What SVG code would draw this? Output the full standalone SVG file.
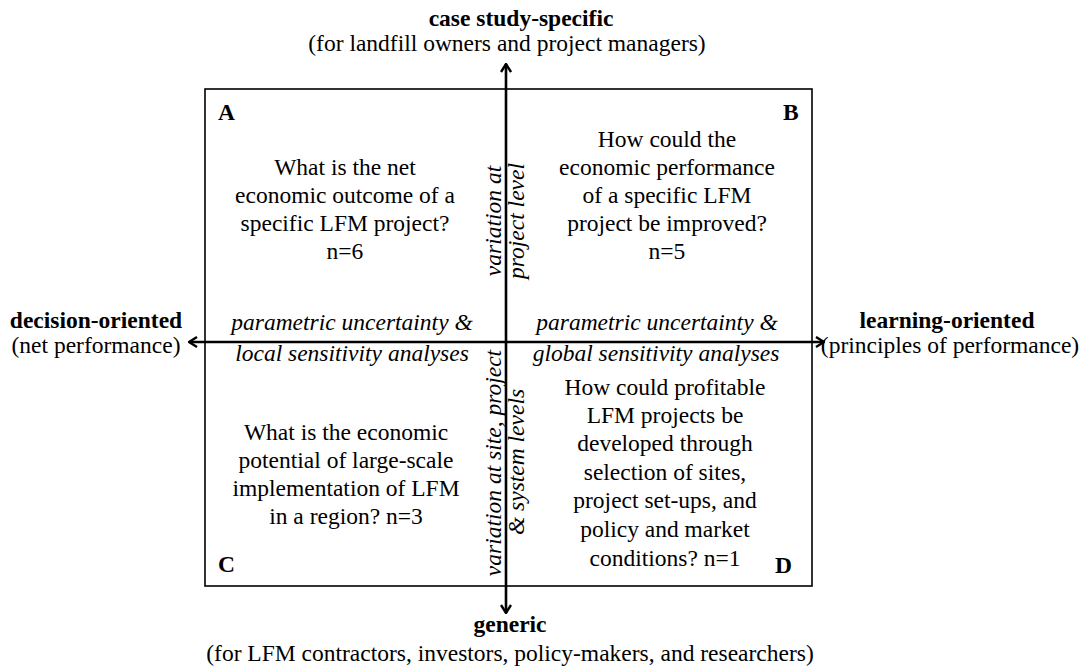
<svg xmlns="http://www.w3.org/2000/svg" width="1080" height="668" viewBox="0 0 1080 668" font-family="Liberation Serif, DejaVu Serif, serif" font-size="23.5">
<style>
.b{font-weight:bold}
.i{font-style:italic}
.m{text-anchor:middle}
.ax{stroke:#000;stroke-width:2.6;fill:none}
</style>
<defs>
<marker id="ah" viewBox="0 0 12 12" refX="11" refY="6" markerWidth="12" markerHeight="12" markerUnits="userSpaceOnUse" orient="auto">
<path d="M3,1 L11,6 L3,11" fill="none" stroke="#000" stroke-width="2.4"/>
</marker>
</defs>
<rect x="0" y="0" width="1080" height="668" fill="#fff"/>
<g id="frame"><rect x="205" y="89" width="607" height="497" fill="none" stroke="#000" stroke-width="1.6"/></g>
<g id="connectors">
<line class="ax" x1="506" y1="342" x2="506" y2="64" marker-end="url(#ah)"/>
<line class="ax" x1="506" y1="342" x2="506" y2="613" marker-end="url(#ah)"/>
<line class="ax" x1="506" y1="342" x2="189" y2="342" marker-end="url(#ah)"/>
<line class="ax" x1="506" y1="342" x2="824" y2="342" marker-end="url(#ah)"/>
</g>
<g id="top"><text class="b m" x="521" y="26">case study-specific</text><text class="m" x="507" y="51">(for landfill owners and project managers)</text></g>
<g id="bottom"><text class="b m" x="510" y="632">generic</text><text class="m" x="510" y="661">(for LFM contractors, investors, policy-makers, and researchers)</text></g>
<g id="left"><text class="b m" x="96" y="328">decision-oriented</text><text class="m" x="96" y="353">(net performance)</text></g>
<g id="right"><text class="b m" x="947" y="328">learning-oriented</text><text class="m" x="950" y="353">(principles of performance)</text></g>
<g id="qA">
<text class="b" x="218" y="120">A</text>
<text class="m" x="345" y="175">What is the net</text>
<text class="m" x="345" y="203">economic outcome of a</text>
<text class="m" x="345" y="231">specific LFM project?</text>
<text class="m" x="345" y="259">n=6</text>
</g>
<g id="qB">
<text class="b" x="783" y="120">B</text>
<text class="m" x="667" y="147">How could the</text>
<text class="m" x="667" y="175">economic performance</text>
<text class="m" x="667" y="203">of a specific LFM</text>
<text class="m" x="667" y="231">project be improved?</text>
<text class="m" x="667" y="259">n=5</text>
</g>
<g id="qC">
<text class="b" x="218" y="572">C</text>
<text class="m" x="346" y="440">What is the economic</text>
<text class="m" x="346" y="468">potential of large-scale</text>
<text class="m" x="346" y="496">implementation of LFM</text>
<text class="m" x="346" y="524">in a region? n=3</text>
</g>
<g id="qD">
<text class="b" x="775" y="573">D</text>
<text class="m" x="665" y="395">How could profitable</text>
<text class="m" x="665" y="423">LFM projects be</text>
<text class="m" x="665" y="451">developed through</text>
<text class="m" x="665" y="480">selection of sites,</text>
<text class="m" x="665" y="508">project set-ups, and</text>
<text class="m" x="665" y="537">policy and market</text>
<text class="m" x="665" y="566">conditions? n=1</text>
</g>
<g id="axis-labels">
<text class="i m" x="352" y="330">parametric uncertainty &amp;</text>
<text class="i m" x="352" y="361">local sensitivity analyses</text>
<text class="i m" x="657" y="330">parametric uncertainty &amp;</text>
<text class="i m" x="656" y="361">global sensitivity analyses</text>
<text class="i m" transform="translate(501,221) rotate(-90)">variation at</text>
<text class="i m" transform="translate(524,221) rotate(-90)">project level</text>
<text class="i m" transform="translate(501,463) rotate(-90)">variation at site, project</text>
<text class="i m" transform="translate(524,462) rotate(-90)">&amp; system levels</text>
</g>
</svg>
